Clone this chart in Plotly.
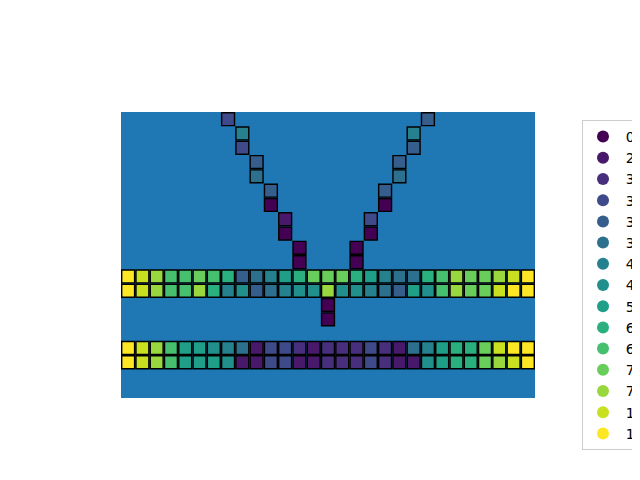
import plotly.graph_objects as go

# ---- data ----
n_cols = 29
n_rows = 20
legend_labels = ["0", "2.", "3.", "3.", "3.", "3.", "4.", "4.", "5.", "6.", "6.", "7.", "7.", "1.", "1."]
palette = ["#440154", "#48186a", "#472f7d", "#3e4a89", "#355e8d", "#2d708e", "#26818e",
           "#21908d", "#1f9f88", "#2ab07f", "#46c06f", "#69cd5b", "#98d83e", "#c8e020", "#fde725"]

row11 = [14, 13, 12, 10, 10, 11, 10, 9, 4, 5, 6, 8, 9, 11, 11, 11, 9, 8, 6, 5, 5, 9, 10, 12, 11, 11, 12, 13, 14]
row12 = [14, 13, 12, 10, 10, 12, 9, 6, 7, 4, 5, 6, 7, 7, 12, 7, 7, 6, 5, 4, 8, 7, 10, 12, 11, 11, 13, 14, 14]
row16 = [14, 13, 12, 10, 8, 8, 7, 6, 5, 1, 3, 3, 2, 1, 2, 2, 2, 3, 2, 1, 5, 6, 8, 9, 9, 11, 13, 14, 14]
row17 = [14, 13, 12, 10, 8, 8, 8, 7, 1, 1, 3, 3, 1, 1, 2, 2, 2, 3, 2, 1, 1, 7, 8, 9, 9, 11, 12, 13, 14]
band_rows = {11: row11, 12: row12, 16: row16, 17: row17}

arm_rows = [0, 1, 2, 3, 4, 5, 6, 7, 8, 9, 10]
left_arm_cols = [7, 8, 8, 9, 9, 10, 10, 11, 11, 12, 12]
left_arm_vals = [3, 6, 3, 4, 5, 4, 0, 1, 0, 0, 0]
right_arm_cols = [21, 20, 20, 19, 19, 18, 18, 17, 17, 16, 16]
right_arm_vals = [4, 6, 4, 4, 5, 4, 0, 3, 0, 0, 0]
stem_rows = [13, 14]
stem_cols = [14, 14]
stem_vals = [0, 0]

# ---- assemble cells ----
xs, ys, vs = [], [], []
for r, vals in band_rows.items():
    for c, v in enumerate(vals):
        xs.append(c); ys.append(r); vs.append(v)
for rows, cols, vals in ((arm_rows, left_arm_cols, left_arm_vals),
                         (arm_rows, right_arm_cols, right_arm_vals),
                         (stem_rows, stem_cols, stem_vals)):
    for r, c, v in zip(rows, cols, vals):
        xs.append(c); ys.append(r); vs.append(v)

# layout geometry (page has an 8px body margin)
OFF = 8
W, H = 640, 480
PW, PH = 414, 286
L, T = 121 - OFF, 112 - OFF
R = W - L - PW
B = H - T - PH
cell_px = PW / n_cols
line_w = 1.4

fig = go.Figure()
for k in range(len(palette)):
    px = [x for x, v in zip(xs, vs) if v == k]
    py = [y for y, v in zip(ys, vs) if v == k]
    fig.add_trace(go.Scatter(
        x=px, y=py, mode="markers", showlegend=False, hoverinfo="skip",
        marker=dict(symbol="square", size=cell_px - line_w, color=palette[k],
                    line=dict(color="black", width=line_w))))
lead = "\u2009"
pad = "\u00a0"
for k, lab in enumerate(legend_labels):
    fig.add_trace(go.Scatter(
        x=[None], y=[None], mode="markers", name=lead + lab + pad * 12, showlegend=True,
        marker=dict(symbol="circle", size=13, color=palette[k])))

fig.update_layout(
    width=W, height=H,
    margin=dict(l=L, r=R, t=T, b=B, autoexpand=False),
    paper_bgcolor="white", plot_bgcolor="#1f77b4",
    font=dict(family="DejaVu Sans", size=13, color="black"),
    xaxis=dict(range=[-0.5, n_cols - 0.5], visible=False, fixedrange=True),
    yaxis=dict(range=[n_rows - 0.5, -0.5], visible=False, fixedrange=True),
    legend=dict(x=(582 - OFF - L) / PW, y=(T + PH - (120 - OFF)) / PH,
                xanchor="left", yanchor="top", bgcolor="rgba(255,255,255,0.8)",
                bordercolor="#cccccc", borderwidth=1, maxheight=420,
                font=dict(family="DejaVu Sans", size=14), itemsizing="constant",
                tracegroupgap=0),
)
fig.write_html("out.html")
